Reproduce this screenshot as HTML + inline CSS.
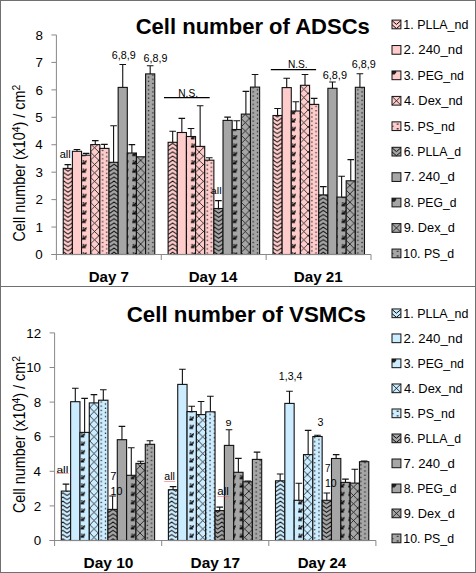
<!DOCTYPE html><html><head><meta charset="utf-8"><style>html,body{margin:0;padding:0;background:#fff;overflow:hidden}svg{display:block}text{font-family:"Liberation Sans",sans-serif}</style></head><body><svg width="476" height="573" viewBox="0 0 476 573" font-family="Liberation Sans, sans-serif"><defs><pattern id="zztn" patternUnits="userSpaceOnUse" x="5.23" y="1.11" width="8.37" height="4.185"><rect width="8.37" height="4.185" fill="#FFCCCC"/><polyline points="-4.185,-1.2849999999999997 0,-4.185 4.185,-1.2849999999999997 8.37,-4.185 12.555,-1.2849999999999997" fill="none" stroke="#000" stroke-width="0.9"/><polyline points="-4.185,2.9 0,0.0 4.185,2.9 8.37,0.0 12.555,2.9" fill="none" stroke="#000" stroke-width="0.9"/><polyline points="-4.185,7.084999999999999 0,4.185 4.185,7.084999999999999 8.37,4.185 12.555,7.084999999999999" fill="none" stroke="#000" stroke-width="0.9"/><polyline points="-4.185,11.27 0,8.37 4.185,11.27 8.37,8.37 12.555,11.27" fill="none" stroke="#000" stroke-width="0.9"/></pattern><pattern id="pegtn" patternUnits="userSpaceOnUse" x="6.67" y="1.11" width="8.37" height="8.37"><rect width="8.37" height="8.37" fill="#FFCCCC"/><path d="M0.6,0.1h1.5v1.5h-1.5z" fill="#333"/><path d="M1.7,2.0L4.4,-0.3L4.3,2.6z" fill="#000"/><path d="M-0.3,4.2L0.6,2.1L3.0,2.1L4.0,4.2z" fill="#000"/></pattern><pattern id="dextn" patternUnits="userSpaceOnUse" x="6.71" y="1.33" width="8.37" height="8.37"><rect width="8.37" height="8.37" fill="#FFCCCC"/><path d="M-1,-1L9.37,9.37M9.37,-1L-1,9.37" stroke="#111" stroke-width="0.8"/></pattern><pattern id="dottn" patternUnits="userSpaceOnUse" x="2.16" y="4.01" width="8.37" height="8.37"><rect width="8.37" height="8.37" fill="#FFCCCC"/><rect x="-0.62" y="-0.62" width="1.25" height="1.25" fill="#1a1a1a"/><rect x="-0.62" y="3.56" width="1.25" height="1.25" fill="#1a1a1a"/><rect x="3.56" y="1.47" width="1.25" height="1.25" fill="#1a1a1a"/><rect x="3.56" y="5.65" width="1.25" height="1.25" fill="#1a1a1a"/><rect x="7.74" y="-0.62" width="1.25" height="1.25" fill="#1a1a1a"/><rect x="7.74" y="3.56" width="1.25" height="1.25" fill="#1a1a1a"/><rect x="-0.62" y="7.74" width="1.25" height="1.25" fill="#1a1a1a"/><rect x="7.74" y="7.74" width="1.25" height="1.25" fill="#1a1a1a"/></pattern><pattern id="zztd" patternUnits="userSpaceOnUse" x="5.23" y="1.11" width="8.37" height="4.185"><rect width="8.37" height="4.185" fill="#A6A6A6"/><polyline points="-4.185,-1.2849999999999997 0,-4.185 4.185,-1.2849999999999997 8.37,-4.185 12.555,-1.2849999999999997" fill="none" stroke="#000" stroke-width="0.9"/><polyline points="-4.185,2.9 0,0.0 4.185,2.9 8.37,0.0 12.555,2.9" fill="none" stroke="#000" stroke-width="0.9"/><polyline points="-4.185,7.084999999999999 0,4.185 4.185,7.084999999999999 8.37,4.185 12.555,7.084999999999999" fill="none" stroke="#000" stroke-width="0.9"/><polyline points="-4.185,11.27 0,8.37 4.185,11.27 8.37,8.37 12.555,11.27" fill="none" stroke="#000" stroke-width="0.9"/></pattern><pattern id="pegtd" patternUnits="userSpaceOnUse" x="6.67" y="1.11" width="8.37" height="8.37"><rect width="8.37" height="8.37" fill="#A6A6A6"/><path d="M0.6,0.1h1.5v1.5h-1.5z" fill="#333"/><path d="M1.7,2.0L4.4,-0.3L4.3,2.6z" fill="#000"/><path d="M-0.3,4.2L0.6,2.1L3.0,2.1L4.0,4.2z" fill="#000"/></pattern><pattern id="dextd" patternUnits="userSpaceOnUse" x="6.71" y="1.33" width="8.37" height="8.37"><rect width="8.37" height="8.37" fill="#A6A6A6"/><path d="M-1,-1L9.37,9.37M9.37,-1L-1,9.37" stroke="#111" stroke-width="0.8"/></pattern><pattern id="dottd" patternUnits="userSpaceOnUse" x="2.16" y="4.01" width="8.37" height="8.37"><rect width="8.37" height="8.37" fill="#A6A6A6"/><rect x="-0.62" y="-0.62" width="1.25" height="1.25" fill="#1a1a1a"/><rect x="-0.62" y="3.56" width="1.25" height="1.25" fill="#1a1a1a"/><rect x="3.56" y="1.47" width="1.25" height="1.25" fill="#1a1a1a"/><rect x="3.56" y="5.65" width="1.25" height="1.25" fill="#1a1a1a"/><rect x="7.74" y="-0.62" width="1.25" height="1.25" fill="#1a1a1a"/><rect x="7.74" y="3.56" width="1.25" height="1.25" fill="#1a1a1a"/><rect x="-0.62" y="7.74" width="1.25" height="1.25" fill="#1a1a1a"/><rect x="7.74" y="7.74" width="1.25" height="1.25" fill="#1a1a1a"/></pattern><pattern id="zzbn" patternUnits="userSpaceOnUse" x="4.23" y="3.10" width="8.37" height="4.185"><rect width="8.37" height="4.185" fill="#CCECFF"/><polyline points="-4.185,-1.2849999999999997 0,-4.185 4.185,-1.2849999999999997 8.37,-4.185 12.555,-1.2849999999999997" fill="none" stroke="#000" stroke-width="0.9"/><polyline points="-4.185,2.9 0,0.0 4.185,2.9 8.37,0.0 12.555,2.9" fill="none" stroke="#000" stroke-width="0.9"/><polyline points="-4.185,7.084999999999999 0,4.185 4.185,7.084999999999999 8.37,4.185 12.555,7.084999999999999" fill="none" stroke="#000" stroke-width="0.9"/><polyline points="-4.185,11.27 0,8.37 4.185,11.27 8.37,8.37 12.555,11.27" fill="none" stroke="#000" stroke-width="0.9"/></pattern><pattern id="pegbn" patternUnits="userSpaceOnUse" x="5.17" y="6.20" width="8.37" height="8.37"><rect width="8.37" height="8.37" fill="#CCECFF"/><path d="M0.6,0.1h1.5v1.5h-1.5z" fill="#333"/><path d="M1.7,2.0L4.4,-0.3L4.3,2.6z" fill="#000"/><path d="M-0.3,4.2L0.6,2.1L3.0,2.1L4.0,4.2z" fill="#000"/></pattern><pattern id="dexbn" patternUnits="userSpaceOnUse" x="6.12" y="5.82" width="8.37" height="8.37"><rect width="8.37" height="8.37" fill="#CCECFF"/><path d="M-1,-1L9.37,9.37M9.37,-1L-1,9.37" stroke="#111" stroke-width="0.8"/></pattern><pattern id="dotbn" patternUnits="userSpaceOnUse" x="0.86" y="4.40" width="8.37" height="8.37"><rect width="8.37" height="8.37" fill="#CCECFF"/><rect x="-0.62" y="-0.62" width="1.25" height="1.25" fill="#1a1a1a"/><rect x="-0.62" y="3.56" width="1.25" height="1.25" fill="#1a1a1a"/><rect x="3.56" y="1.47" width="1.25" height="1.25" fill="#1a1a1a"/><rect x="3.56" y="5.65" width="1.25" height="1.25" fill="#1a1a1a"/><rect x="7.74" y="-0.62" width="1.25" height="1.25" fill="#1a1a1a"/><rect x="7.74" y="3.56" width="1.25" height="1.25" fill="#1a1a1a"/><rect x="-0.62" y="7.74" width="1.25" height="1.25" fill="#1a1a1a"/><rect x="7.74" y="7.74" width="1.25" height="1.25" fill="#1a1a1a"/></pattern><pattern id="zzbd" patternUnits="userSpaceOnUse" x="4.23" y="3.10" width="8.37" height="4.185"><rect width="8.37" height="4.185" fill="#A6A6A6"/><polyline points="-4.185,-1.2849999999999997 0,-4.185 4.185,-1.2849999999999997 8.37,-4.185 12.555,-1.2849999999999997" fill="none" stroke="#000" stroke-width="0.9"/><polyline points="-4.185,2.9 0,0.0 4.185,2.9 8.37,0.0 12.555,2.9" fill="none" stroke="#000" stroke-width="0.9"/><polyline points="-4.185,7.084999999999999 0,4.185 4.185,7.084999999999999 8.37,4.185 12.555,7.084999999999999" fill="none" stroke="#000" stroke-width="0.9"/><polyline points="-4.185,11.27 0,8.37 4.185,11.27 8.37,8.37 12.555,11.27" fill="none" stroke="#000" stroke-width="0.9"/></pattern><pattern id="pegbd" patternUnits="userSpaceOnUse" x="5.17" y="6.20" width="8.37" height="8.37"><rect width="8.37" height="8.37" fill="#A6A6A6"/><path d="M0.6,0.1h1.5v1.5h-1.5z" fill="#333"/><path d="M1.7,2.0L4.4,-0.3L4.3,2.6z" fill="#000"/><path d="M-0.3,4.2L0.6,2.1L3.0,2.1L4.0,4.2z" fill="#000"/></pattern><pattern id="dexbd" patternUnits="userSpaceOnUse" x="6.12" y="5.82" width="8.37" height="8.37"><rect width="8.37" height="8.37" fill="#A6A6A6"/><path d="M-1,-1L9.37,9.37M9.37,-1L-1,9.37" stroke="#111" stroke-width="0.8"/></pattern><pattern id="dotbd" patternUnits="userSpaceOnUse" x="0.86" y="4.40" width="8.37" height="8.37"><rect width="8.37" height="8.37" fill="#A6A6A6"/><rect x="-0.62" y="-0.62" width="1.25" height="1.25" fill="#1a1a1a"/><rect x="-0.62" y="3.56" width="1.25" height="1.25" fill="#1a1a1a"/><rect x="3.56" y="1.47" width="1.25" height="1.25" fill="#1a1a1a"/><rect x="3.56" y="5.65" width="1.25" height="1.25" fill="#1a1a1a"/><rect x="7.74" y="-0.62" width="1.25" height="1.25" fill="#1a1a1a"/><rect x="7.74" y="3.56" width="1.25" height="1.25" fill="#1a1a1a"/><rect x="-0.62" y="7.74" width="1.25" height="1.25" fill="#1a1a1a"/><rect x="7.74" y="7.74" width="1.25" height="1.25" fill="#1a1a1a"/></pattern></defs><rect x="0" y="0" width="476" height="573" fill="#fff"/><path d="M51.4,254.50H56.4" stroke="#888888" stroke-width="1"/><text x="35.33" y="259.20" font-size="13.43" textLength="7.45" lengthAdjust="spacingAndGlyphs" fill="#000" >0</text><path d="M51.4,227.06H56.4" stroke="#888888" stroke-width="1"/><text x="35.47" y="231.76" font-size="13.62" textLength="7.45" lengthAdjust="spacingAndGlyphs" fill="#000" >1</text><path d="M51.4,199.62H56.4" stroke="#888888" stroke-width="1"/><text x="35.47" y="204.32" font-size="13.43" textLength="7.45" lengthAdjust="spacingAndGlyphs" fill="#000" >2</text><path d="M51.4,172.18H56.4" stroke="#888888" stroke-width="1"/><text x="35.47" y="176.88" font-size="13.43" textLength="7.45" lengthAdjust="spacingAndGlyphs" fill="#000" >3</text><path d="M51.4,144.74H56.4" stroke="#888888" stroke-width="1"/><text x="35.20" y="149.44" font-size="13.62" textLength="7.45" lengthAdjust="spacingAndGlyphs" fill="#000" >4</text><path d="M51.4,117.30H56.4" stroke="#888888" stroke-width="1"/><text x="35.33" y="122.00" font-size="13.62" textLength="7.45" lengthAdjust="spacingAndGlyphs" fill="#000" >5</text><path d="M51.4,89.86H56.4" stroke="#888888" stroke-width="1"/><text x="35.47" y="94.56" font-size="13.43" textLength="7.45" lengthAdjust="spacingAndGlyphs" fill="#000" >6</text><path d="M51.4,62.42H56.4" stroke="#888888" stroke-width="1"/><text x="35.47" y="67.12" font-size="13.62" textLength="7.45" lengthAdjust="spacingAndGlyphs" fill="#000" >7</text><path d="M51.4,34.98H56.4" stroke="#888888" stroke-width="1"/><text x="35.47" y="39.68" font-size="13.43" textLength="7.45" lengthAdjust="spacingAndGlyphs" fill="#000" >8</text><path d="M161.27,254.5V260.0" stroke="#888888" stroke-width="1"/><path d="M266.13,254.5V260.0" stroke="#888888" stroke-width="1"/><path d="M371.00,254.5V260.0" stroke="#888888" stroke-width="1"/><rect x="63.25" y="168.40" width="9.15" height="86.10" fill="url(#zztn)" stroke="#111" stroke-width="1.1"/><rect x="72.40" y="151.30" width="9.15" height="103.20" fill="#FFCCCC" stroke="#111" stroke-width="1.1"/><rect x="81.55" y="155.20" width="9.15" height="99.30" fill="url(#pegtn)" stroke="#111" stroke-width="1.1"/><rect x="90.70" y="144.60" width="9.15" height="109.90" fill="url(#dextn)" stroke="#111" stroke-width="1.1"/><rect x="99.85" y="148.40" width="9.15" height="106.10" fill="url(#dottn)" stroke="#111" stroke-width="1.1"/><rect x="109.00" y="162.30" width="9.15" height="92.20" fill="url(#zztd)" stroke="#111" stroke-width="1.1"/><rect x="118.15" y="87.40" width="9.15" height="167.10" fill="#A6A6A6" stroke="#111" stroke-width="1.1"/><rect x="127.30" y="153.00" width="9.15" height="101.50" fill="url(#pegtd)" stroke="#111" stroke-width="1.1"/><rect x="136.45" y="156.80" width="9.15" height="97.70" fill="url(#dextd)" stroke="#111" stroke-width="1.1"/><rect x="145.60" y="73.90" width="9.15" height="180.60" fill="url(#dottd)" stroke="#111" stroke-width="1.1"/><rect x="168.12" y="142.30" width="9.15" height="112.20" fill="url(#zztn)" stroke="#111" stroke-width="1.1"/><rect x="177.27" y="132.50" width="9.15" height="122.00" fill="#FFCCCC" stroke="#111" stroke-width="1.1"/><rect x="186.42" y="136.50" width="9.15" height="118.00" fill="url(#pegtn)" stroke="#111" stroke-width="1.1"/><rect x="195.57" y="146.40" width="9.15" height="108.10" fill="url(#dextn)" stroke="#111" stroke-width="1.1"/><rect x="204.72" y="160.20" width="9.15" height="94.30" fill="url(#dottn)" stroke="#111" stroke-width="1.1"/><rect x="213.87" y="208.50" width="9.15" height="46.00" fill="url(#zztd)" stroke="#111" stroke-width="1.1"/><rect x="223.02" y="120.40" width="9.15" height="134.10" fill="#A6A6A6" stroke="#111" stroke-width="1.1"/><rect x="232.17" y="129.50" width="9.15" height="125.00" fill="url(#pegtd)" stroke="#111" stroke-width="1.1"/><rect x="241.32" y="114.10" width="9.15" height="140.40" fill="url(#dextd)" stroke="#111" stroke-width="1.1"/><rect x="250.47" y="87.10" width="9.15" height="167.40" fill="url(#dottd)" stroke="#111" stroke-width="1.1"/><rect x="272.98" y="115.50" width="9.15" height="139.00" fill="url(#zztn)" stroke="#111" stroke-width="1.1"/><rect x="282.13" y="87.60" width="9.15" height="166.90" fill="#FFCCCC" stroke="#111" stroke-width="1.1"/><rect x="291.28" y="111.00" width="9.15" height="143.50" fill="url(#pegtn)" stroke="#111" stroke-width="1.1"/><rect x="300.43" y="85.30" width="9.15" height="169.20" fill="url(#dextn)" stroke="#111" stroke-width="1.1"/><rect x="309.58" y="104.40" width="9.15" height="150.10" fill="url(#dottn)" stroke="#111" stroke-width="1.1"/><rect x="318.73" y="194.90" width="9.15" height="59.60" fill="url(#zztd)" stroke="#111" stroke-width="1.1"/><rect x="327.88" y="88.30" width="9.15" height="166.20" fill="#A6A6A6" stroke="#111" stroke-width="1.1"/><rect x="337.03" y="197.10" width="9.15" height="57.40" fill="url(#pegtd)" stroke="#111" stroke-width="1.1"/><rect x="346.18" y="180.80" width="9.15" height="73.70" fill="url(#dextd)" stroke="#111" stroke-width="1.1"/><rect x="355.33" y="87.30" width="9.15" height="167.20" fill="url(#dottd)" stroke="#111" stroke-width="1.1"/><path d="M56.4,34.97999999999999V260.0M51.4,254.5H371.0" stroke="#888888" stroke-width="1" fill="none"/><path d="M67.83,168.40V164.60M64.53,164.60H71.12" stroke="#111" stroke-width="1.1"/><path d="M76.98,151.30V149.50M73.68,149.50H80.28" stroke="#111" stroke-width="1.1"/><path d="M86.12,155.20V153.40M82.83,153.40H89.42" stroke="#111" stroke-width="1.1"/><path d="M95.28,144.60V140.60M91.98,140.60H98.58" stroke="#111" stroke-width="1.1"/><path d="M104.42,148.40V144.40M101.12,144.40H107.72" stroke="#111" stroke-width="1.1"/><path d="M113.58,162.30V125.70M110.28,125.70H116.88" stroke="#111" stroke-width="1.1"/><path d="M122.73,87.40V64.50M119.43,64.50H126.03" stroke="#111" stroke-width="1.1"/><path d="M131.88,153.00V144.60M128.57,144.60H135.18" stroke="#111" stroke-width="1.1"/><path d="M150.18,73.90V65.70M146.88,65.70H153.48" stroke="#111" stroke-width="1.1"/><path d="M172.69,142.30V131.30M169.39,131.30H175.99" stroke="#111" stroke-width="1.1"/><path d="M181.84,132.50V118.40M178.54,118.40H185.14" stroke="#111" stroke-width="1.1"/><path d="M190.99,136.50V128.50M187.69,128.50H194.29" stroke="#111" stroke-width="1.1"/><path d="M200.14,146.40V105.80M196.84,105.80H203.44" stroke="#111" stroke-width="1.1"/><path d="M209.29,160.20V157.70M205.99,157.70H212.59" stroke="#111" stroke-width="1.1"/><path d="M218.44,208.50V200.60M215.14,200.60H221.74" stroke="#111" stroke-width="1.1"/><path d="M227.59,120.40V117.10M224.29,117.10H230.89" stroke="#111" stroke-width="1.1"/><path d="M236.74,129.50V120.70M233.44,120.70H240.04" stroke="#111" stroke-width="1.1"/><path d="M245.89,114.10V91.40M242.59,91.40H249.19" stroke="#111" stroke-width="1.1"/><path d="M255.04,87.10V74.50M251.74,74.50H258.34" stroke="#111" stroke-width="1.1"/><path d="M277.56,115.50V108.50M274.26,108.50H280.86" stroke="#111" stroke-width="1.1"/><path d="M286.71,87.60V78.20M283.41,78.20H290.01" stroke="#111" stroke-width="1.1"/><path d="M295.86,111.00V101.70M292.56,101.70H299.16" stroke="#111" stroke-width="1.1"/><path d="M305.01,85.30V74.50M301.71,74.50H308.31" stroke="#111" stroke-width="1.1"/><path d="M314.16,104.40V98.40M310.86,98.40H317.46" stroke="#111" stroke-width="1.1"/><path d="M323.31,194.90V186.60M320.01,186.60H326.61" stroke="#111" stroke-width="1.1"/><path d="M332.46,88.30V82.00M329.16,82.00H335.76" stroke="#111" stroke-width="1.1"/><path d="M341.61,197.10V176.20M338.31,176.20H344.91" stroke="#111" stroke-width="1.1"/><path d="M350.76,180.80V159.60M347.46,159.60H354.06" stroke="#111" stroke-width="1.1"/><path d="M359.91,87.30V73.70M356.61,73.70H363.21" stroke="#111" stroke-width="1.1"/><path d="M49.6,540.50H54.6" stroke="#888888" stroke-width="1"/><text x="33.63" y="545.20" font-size="13.43" textLength="7.45" lengthAdjust="spacingAndGlyphs" fill="#000" >0</text><path d="M49.6,505.90H54.6" stroke="#888888" stroke-width="1"/><text x="33.77" y="510.60" font-size="13.43" textLength="7.45" lengthAdjust="spacingAndGlyphs" fill="#000" >2</text><path d="M49.6,471.30H54.6" stroke="#888888" stroke-width="1"/><text x="33.50" y="476.00" font-size="13.62" textLength="7.45" lengthAdjust="spacingAndGlyphs" fill="#000" >4</text><path d="M49.6,436.70H54.6" stroke="#888888" stroke-width="1"/><text x="33.77" y="441.40" font-size="13.43" textLength="7.45" lengthAdjust="spacingAndGlyphs" fill="#000" >6</text><path d="M49.6,402.10H54.6" stroke="#888888" stroke-width="1"/><text x="33.77" y="406.80" font-size="13.43" textLength="7.45" lengthAdjust="spacingAndGlyphs" fill="#000" >8</text><path d="M49.6,367.50H54.6" stroke="#888888" stroke-width="1"/><text x="26.13" y="372.20" font-size="13.43" textLength="14.90" lengthAdjust="spacingAndGlyphs" fill="#000" >10</text><path d="M49.6,332.90H54.6" stroke="#888888" stroke-width="1"/><text x="26.26" y="337.60" font-size="13.43" textLength="14.90" lengthAdjust="spacingAndGlyphs" fill="#000" >12</text><path d="M161.70,540.5V546.0" stroke="#888888" stroke-width="1"/><path d="M268.80,540.5V546.0" stroke="#888888" stroke-width="1"/><path d="M375.90,540.5V546.0" stroke="#888888" stroke-width="1"/><rect x="61.30" y="491.10" width="9.33" height="49.40" fill="url(#zzbn)" stroke="#111" stroke-width="1.1"/><rect x="70.63" y="401.70" width="9.33" height="138.80" fill="#CCECFF" stroke="#111" stroke-width="1.1"/><rect x="79.96" y="432.40" width="9.33" height="108.10" fill="url(#pegbn)" stroke="#111" stroke-width="1.1"/><rect x="89.29" y="402.90" width="9.33" height="137.60" fill="url(#dexbn)" stroke="#111" stroke-width="1.1"/><rect x="98.62" y="400.20" width="9.33" height="140.30" fill="url(#dotbn)" stroke="#111" stroke-width="1.1"/><rect x="107.95" y="509.40" width="9.33" height="31.10" fill="url(#zzbd)" stroke="#111" stroke-width="1.1"/><rect x="117.28" y="439.70" width="9.33" height="100.80" fill="#A6A6A6" stroke="#111" stroke-width="1.1"/><rect x="126.61" y="475.30" width="9.33" height="65.20" fill="url(#pegbd)" stroke="#111" stroke-width="1.1"/><rect x="135.94" y="463.40" width="9.33" height="77.10" fill="url(#dexbd)" stroke="#111" stroke-width="1.1"/><rect x="145.27" y="444.30" width="9.33" height="96.20" fill="url(#dotbd)" stroke="#111" stroke-width="1.1"/><rect x="168.40" y="489.70" width="9.33" height="50.80" fill="url(#zzbn)" stroke="#111" stroke-width="1.1"/><rect x="177.73" y="384.40" width="9.33" height="156.10" fill="#CCECFF" stroke="#111" stroke-width="1.1"/><rect x="187.06" y="411.60" width="9.33" height="128.90" fill="url(#pegbn)" stroke="#111" stroke-width="1.1"/><rect x="196.39" y="414.60" width="9.33" height="125.90" fill="url(#dexbn)" stroke="#111" stroke-width="1.1"/><rect x="205.72" y="411.80" width="9.33" height="128.70" fill="url(#dotbn)" stroke="#111" stroke-width="1.1"/><rect x="215.05" y="510.60" width="9.33" height="29.90" fill="url(#zzbd)" stroke="#111" stroke-width="1.1"/><rect x="224.38" y="445.40" width="9.33" height="95.10" fill="#A6A6A6" stroke="#111" stroke-width="1.1"/><rect x="233.71" y="472.30" width="9.33" height="68.20" fill="url(#pegbd)" stroke="#111" stroke-width="1.1"/><rect x="243.04" y="481.80" width="9.33" height="58.70" fill="url(#dexbd)" stroke="#111" stroke-width="1.1"/><rect x="252.37" y="459.40" width="9.33" height="81.10" fill="url(#dotbd)" stroke="#111" stroke-width="1.1"/><rect x="275.50" y="480.80" width="9.33" height="59.70" fill="url(#zzbn)" stroke="#111" stroke-width="1.1"/><rect x="284.83" y="403.40" width="9.33" height="137.10" fill="#CCECFF" stroke="#111" stroke-width="1.1"/><rect x="294.16" y="500.30" width="9.33" height="40.20" fill="url(#pegbn)" stroke="#111" stroke-width="1.1"/><rect x="303.49" y="454.60" width="9.33" height="85.90" fill="url(#dexbn)" stroke="#111" stroke-width="1.1"/><rect x="312.82" y="436.50" width="9.33" height="104.00" fill="url(#dotbn)" stroke="#111" stroke-width="1.1"/><rect x="322.15" y="500.30" width="9.33" height="40.20" fill="url(#zzbd)" stroke="#111" stroke-width="1.1"/><rect x="331.48" y="458.50" width="9.33" height="82.00" fill="#A6A6A6" stroke="#111" stroke-width="1.1"/><rect x="340.81" y="482.40" width="9.33" height="58.10" fill="url(#pegbd)" stroke="#111" stroke-width="1.1"/><rect x="350.14" y="483.10" width="9.33" height="57.40" fill="url(#dexbd)" stroke="#111" stroke-width="1.1"/><rect x="359.47" y="461.70" width="9.33" height="78.80" fill="url(#dotbd)" stroke="#111" stroke-width="1.1"/><path d="M54.6,332.9V546.0M49.6,540.5H375.9" stroke="#888888" stroke-width="1" fill="none"/><path d="M65.97,491.10V484.10M62.67,484.10H69.27" stroke="#111" stroke-width="1.1"/><path d="M75.30,401.70V388.30M72.00,388.30H78.59" stroke="#111" stroke-width="1.1"/><path d="M84.62,432.40V398.40M81.33,398.40H87.92" stroke="#111" stroke-width="1.1"/><path d="M93.95,402.90V394.60M90.66,394.60H97.25" stroke="#111" stroke-width="1.1"/><path d="M103.29,400.20V389.80M99.99,389.80H106.59" stroke="#111" stroke-width="1.1"/><path d="M112.61,509.40V496.00M109.31,496.00H115.91" stroke="#111" stroke-width="1.1"/><path d="M121.95,439.70V426.40M118.65,426.40H125.25" stroke="#111" stroke-width="1.1"/><path d="M131.28,475.30V447.80M127.98,447.80H134.58" stroke="#111" stroke-width="1.1"/><path d="M140.60,463.40V461.20M137.30,461.20H143.91" stroke="#111" stroke-width="1.1"/><path d="M149.93,444.30V440.80M146.63,440.80H153.23" stroke="#111" stroke-width="1.1"/><path d="M173.06,489.70V486.60M169.76,486.60H176.36" stroke="#111" stroke-width="1.1"/><path d="M182.39,384.40V369.20M179.09,369.20H185.69" stroke="#111" stroke-width="1.1"/><path d="M191.72,411.60V406.30M188.42,406.30H195.02" stroke="#111" stroke-width="1.1"/><path d="M201.05,414.60V401.50M197.75,401.50H204.35" stroke="#111" stroke-width="1.1"/><path d="M210.38,411.80V396.20M207.08,396.20H213.68" stroke="#111" stroke-width="1.1"/><path d="M219.71,510.60V507.10M216.41,507.10H223.01" stroke="#111" stroke-width="1.1"/><path d="M229.04,445.40V429.70M225.74,429.70H232.34" stroke="#111" stroke-width="1.1"/><path d="M238.37,472.30V458.40M235.07,458.40H241.67" stroke="#111" stroke-width="1.1"/><path d="M247.70,481.80V481.00M244.40,481.00H251.00" stroke="#111" stroke-width="1.1"/><path d="M257.03,459.40V452.10M253.73,452.10H260.33" stroke="#111" stroke-width="1.1"/><path d="M280.16,480.80V474.00M276.86,474.00H283.46" stroke="#111" stroke-width="1.1"/><path d="M289.49,403.40V391.30M286.19,391.30H292.79" stroke="#111" stroke-width="1.1"/><path d="M298.82,500.30V483.30M295.52,483.30H302.12" stroke="#111" stroke-width="1.1"/><path d="M308.15,454.60V430.40M304.85,430.40H311.45" stroke="#111" stroke-width="1.1"/><path d="M317.48,436.50V435.20M314.18,435.20H320.78" stroke="#111" stroke-width="1.1"/><path d="M326.81,500.30V493.00M323.51,493.00H330.11" stroke="#111" stroke-width="1.1"/><path d="M336.14,458.50V454.60M332.84,454.60H339.44" stroke="#111" stroke-width="1.1"/><path d="M345.47,482.40V479.10M342.17,479.10H348.77" stroke="#111" stroke-width="1.1"/><path d="M354.80,483.10V469.30M351.50,469.30H358.10" stroke="#111" stroke-width="1.1"/><path d="M364.13,461.70V461.00M360.83,461.00H367.43" stroke="#111" stroke-width="1.1"/><text x="135.72" y="34.00" font-size="21.39" font-weight="bold" textLength="234.08" lengthAdjust="spacingAndGlyphs" fill="#000" >Cell number of ADSCs</text><text x="126.71" y="321.60" font-size="21.81" font-weight="bold" textLength="239.23" lengthAdjust="spacingAndGlyphs" fill="#000" >Cell number of VSMCs</text><text x="88.65" y="281.90" font-size="15.22" font-weight="bold" textLength="40.18" lengthAdjust="spacingAndGlyphs" fill="#000" >Day 7</text><text x="188.74" y="281.90" font-size="15.22" font-weight="bold" textLength="48.62" lengthAdjust="spacingAndGlyphs" fill="#000" >Day 14</text><text x="293.74" y="281.90" font-size="15.00" font-weight="bold" textLength="48.93" lengthAdjust="spacingAndGlyphs" fill="#000" >Day 21</text><text x="83.52" y="568.10" font-size="15.00" font-weight="bold" textLength="49.92" lengthAdjust="spacingAndGlyphs" fill="#000" >Day 10</text><text x="190.52" y="568.10" font-size="15.22" font-weight="bold" textLength="49.66" lengthAdjust="spacingAndGlyphs" fill="#000" >Day 17</text><text x="297.75" y="568.10" font-size="15.00" font-weight="bold" textLength="48.42" lengthAdjust="spacingAndGlyphs" fill="#000" >Day 24</text><text x="59.66" y="157.60" font-size="10.97" textLength="11.01" lengthAdjust="spacingAndGlyphs" fill="#000" >all</text><text x="111.86" y="59.10" font-size="10.57" textLength="23.81" lengthAdjust="spacingAndGlyphs" fill="#000" >6,8,9</text><text x="143.51" y="61.80" font-size="10.57" textLength="23.86" lengthAdjust="spacingAndGlyphs" fill="#000" >6,8,9</text><text x="178.29" y="97.30" font-size="10.14" textLength="19.78" lengthAdjust="spacingAndGlyphs" fill="#000" >N.S.</text><path d="M164,97.6H209.7" stroke="#000" stroke-width="1.1"/><text x="210.87" y="193.90" font-size="9.44" textLength="10.78" lengthAdjust="spacingAndGlyphs" fill="#000" >all</text><text x="287.89" y="67.60" font-size="10.43" textLength="19.78" lengthAdjust="spacingAndGlyphs" fill="#000" >N.S.</text><path d="M270.8,69.6H316.1" stroke="#000" stroke-width="1.1"/><text x="322.65" y="79.00" font-size="10.86" textLength="24.33" lengthAdjust="spacingAndGlyphs" fill="#000" >6,8,9</text><text x="351.66" y="68.00" font-size="10.43" textLength="24.01" lengthAdjust="spacingAndGlyphs" fill="#000" >6,8,9</text><text x="56.42" y="472.50" font-size="9.17" textLength="12.01" lengthAdjust="spacingAndGlyphs" fill="#000" >all</text><path d="M56.4,473.6H68.7" stroke="#F05050" stroke-width="0.8" opacity="0.7"/><text x="110.25" y="480.40" font-size="10.43" textLength="6.17" lengthAdjust="spacingAndGlyphs" fill="#000" >7</text><text x="110.44" y="494.60" font-size="10.29" textLength="11.90" lengthAdjust="spacingAndGlyphs" fill="#000" >10</text><text x="164.28" y="480.40" font-size="10.83" textLength="10.56" lengthAdjust="spacingAndGlyphs" fill="#000" >all</text><path d="M164.2,481.6H175.2" stroke="#F05050" stroke-width="0.8" opacity="0.7"/><text x="217.34" y="495.40" font-size="10.00" textLength="11.56" lengthAdjust="spacingAndGlyphs" fill="#000" >all</text><path d="M217.3,496.6H229.2" stroke="#F05050" stroke-width="0.8" opacity="0.7"/><text x="225.46" y="425.80" font-size="9.57" textLength="6.04" lengthAdjust="spacingAndGlyphs" fill="#000" >9</text><text x="278.85" y="379.90" font-size="10.71" textLength="23.50" lengthAdjust="spacingAndGlyphs" fill="#000" >1,3,4</text><text x="317.47" y="426.00" font-size="10.43" textLength="5.92" lengthAdjust="spacingAndGlyphs" fill="#000" >3</text><text x="325.01" y="472.40" font-size="10.00" textLength="5.44" lengthAdjust="spacingAndGlyphs" fill="#000" >7</text><text x="324.96" y="486.80" font-size="10.57" textLength="11.68" lengthAdjust="spacingAndGlyphs" fill="#000" >10</text><rect x="392.0" y="20.10" width="8.90" height="8.70" fill="#FFCCCC"/><path d="M392.0,20.6 L396.45,24.40 L400.9,20.60 M392.0,24.70 L396.45,28.50 L400.9,24.70" fill="none" stroke="#111" stroke-width="1"/><rect x="392.0" y="20.10" width="8.90" height="8.70" fill="none" stroke="#111" stroke-width="1"/><text x="403.30" y="28.80" font-size="13.19" textLength="65.12" lengthAdjust="spacingAndGlyphs" fill="#000" >1. PLLA_nd</text><rect x="392.0" y="45.54" width="8.90" height="8.70" fill="#FFCCCC"/><rect x="392.0" y="45.54" width="8.90" height="8.70" fill="none" stroke="#111" stroke-width="1"/><text x="403.64" y="54.24" font-size="13.19" textLength="58.97" lengthAdjust="spacingAndGlyphs" fill="#000" >2. 240_nd</text><rect x="392.0" y="70.98" width="8.90" height="8.70" fill="#FFCCCC"/><path d="M392.0,70.98 h4.2 v1.6 l-1.6,2 h-2.6 z" fill="#222"/><rect x="392.0" y="70.98" width="8.90" height="8.70" fill="none" stroke="#111" stroke-width="1"/><text x="403.81" y="79.68" font-size="13.19" textLength="60.05" lengthAdjust="spacingAndGlyphs" fill="#000" >3. PEG_nd</text><rect x="392.0" y="96.42" width="8.90" height="8.70" fill="#FFCCCC"/><path d="M392.0,96.42000000000002 L400.9,105.12 M400.9,96.42 L392.0,105.12" stroke="#222" stroke-width="0.9"/><rect x="392.0" y="96.42" width="8.90" height="8.70" fill="none" stroke="#111" stroke-width="1"/><text x="404.04" y="105.12" font-size="13.19" textLength="58.74" lengthAdjust="spacingAndGlyphs" fill="#000" >4. Dex_nd</text><rect x="392.0" y="121.86" width="8.90" height="8.70" fill="#FFCCCC"/><path d="M396.65,123.46h2v1.4h-2zM396.65,128.06h2v1.4h-2zM392.3,125.86h1.2v1.2h-1.2z" fill="#444"/><rect x="392.0" y="121.86" width="8.90" height="8.70" fill="none" stroke="#111" stroke-width="1"/><text x="403.80" y="130.56" font-size="13.19" textLength="50.99" lengthAdjust="spacingAndGlyphs" fill="#000" >5. PS_nd</text><rect x="392.0" y="147.30" width="8.90" height="8.70" fill="#A6A6A6"/><path d="M392.0,147.8 L396.45,151.60 L400.9,147.80 M392.0,151.90 L396.45,155.70 L400.9,151.90" fill="none" stroke="#111" stroke-width="1"/><rect x="392.0" y="147.30" width="8.90" height="8.70" fill="none" stroke="#111" stroke-width="1"/><text x="403.69" y="156.00" font-size="13.19" textLength="57.27" lengthAdjust="spacingAndGlyphs" fill="#000" >6. PLLA_d</text><rect x="392.0" y="172.74" width="8.90" height="8.70" fill="#A6A6A6"/><rect x="392.0" y="172.74" width="8.90" height="8.70" fill="none" stroke="#111" stroke-width="1"/><text x="403.64" y="181.44" font-size="13.19" textLength="51.18" lengthAdjust="spacingAndGlyphs" fill="#000" >7. 240_d</text><rect x="392.0" y="198.18" width="8.90" height="8.70" fill="#A6A6A6"/><path d="M392.0,198.18 h4.2 v1.6 l-1.6,2 h-2.6 z" fill="#222"/><rect x="392.0" y="198.18" width="8.90" height="8.70" fill="none" stroke="#111" stroke-width="1"/><text x="403.81" y="206.88" font-size="13.19" textLength="52.58" lengthAdjust="spacingAndGlyphs" fill="#000" >8. PEG_d</text><rect x="392.0" y="223.62" width="8.90" height="8.70" fill="#A6A6A6"/><path d="M392.0,223.62 L400.9,232.32 M400.9,223.62 L392.0,232.32" stroke="#222" stroke-width="0.9"/><rect x="392.0" y="223.62" width="8.90" height="8.70" fill="none" stroke="#111" stroke-width="1"/><text x="403.66" y="232.32" font-size="13.19" textLength="51.13" lengthAdjust="spacingAndGlyphs" fill="#000" >9. Dex_d</text><rect x="392.0" y="249.06" width="8.90" height="8.70" fill="#A6A6A6"/><path d="M396.65,250.66h2v1.4h-2zM396.65,255.26h2v1.4h-2zM392.3,253.06h1.2v1.2h-1.2z" fill="#444"/><rect x="392.0" y="249.06" width="8.90" height="8.70" fill="none" stroke="#111" stroke-width="1"/><text x="403.31" y="257.76" font-size="13.19" textLength="50.78" lengthAdjust="spacingAndGlyphs" fill="#000" >10. PS_d</text><rect x="392.0" y="308.95" width="8.90" height="8.70" fill="#CCECFF"/><path d="M392.0,309.45 L396.45,313.25 L400.9,309.45 M392.0,313.55 L396.45,317.35 L400.9,313.55" fill="none" stroke="#111" stroke-width="1"/><rect x="392.0" y="308.95" width="8.90" height="8.70" fill="none" stroke="#111" stroke-width="1"/><text x="403.30" y="317.50" font-size="13.06" textLength="65.12" lengthAdjust="spacingAndGlyphs" fill="#000" >1. PLLA_nd</text><rect x="392.0" y="333.96" width="8.90" height="8.70" fill="#CCECFF"/><rect x="392.0" y="333.96" width="8.90" height="8.70" fill="none" stroke="#111" stroke-width="1"/><text x="403.64" y="342.51" font-size="13.06" textLength="58.97" lengthAdjust="spacingAndGlyphs" fill="#000" >2. 240_nd</text><rect x="392.0" y="358.97" width="8.90" height="8.70" fill="#CCECFF"/><path d="M392.0,358.96999999999997 h4.2 v1.6 l-1.6,2 h-2.6 z" fill="#222"/><rect x="392.0" y="358.97" width="8.90" height="8.70" fill="none" stroke="#111" stroke-width="1"/><text x="403.81" y="367.52" font-size="13.06" textLength="60.05" lengthAdjust="spacingAndGlyphs" fill="#000" >3. PEG_nd</text><rect x="392.0" y="383.98" width="8.90" height="8.70" fill="#CCECFF"/><path d="M392.0,383.98 L400.9,392.68 M400.9,383.98 L392.0,392.68" stroke="#222" stroke-width="0.9"/><rect x="392.0" y="383.98" width="8.90" height="8.70" fill="none" stroke="#111" stroke-width="1"/><text x="404.04" y="392.53" font-size="13.06" textLength="58.74" lengthAdjust="spacingAndGlyphs" fill="#000" >4. Dex_nd</text><rect x="392.0" y="408.99" width="8.90" height="8.70" fill="#CCECFF"/><path d="M396.65,410.59h2v1.4h-2zM396.65,415.19h2v1.4h-2zM392.3,412.99h1.2v1.2h-1.2z" fill="#444"/><rect x="392.0" y="408.99" width="8.90" height="8.70" fill="none" stroke="#111" stroke-width="1"/><text x="403.80" y="417.54" font-size="13.06" textLength="50.99" lengthAdjust="spacingAndGlyphs" fill="#000" >5. PS_nd</text><rect x="392.0" y="434.00" width="8.90" height="8.70" fill="#A6A6A6"/><path d="M392.0,434.5 L396.45,438.30 L400.9,434.50 M392.0,438.60 L396.45,442.40 L400.9,438.60" fill="none" stroke="#111" stroke-width="1"/><rect x="392.0" y="434.00" width="8.90" height="8.70" fill="none" stroke="#111" stroke-width="1"/><text x="403.69" y="442.55" font-size="13.06" textLength="57.27" lengthAdjust="spacingAndGlyphs" fill="#000" >6. PLLA_d</text><rect x="392.0" y="459.01" width="8.90" height="8.70" fill="#A6A6A6"/><rect x="392.0" y="459.01" width="8.90" height="8.70" fill="none" stroke="#111" stroke-width="1"/><text x="403.64" y="467.56" font-size="13.06" textLength="51.18" lengthAdjust="spacingAndGlyphs" fill="#000" >7. 240_d</text><rect x="392.0" y="484.02" width="8.90" height="8.70" fill="#A6A6A6"/><path d="M392.0,484.02 h4.2 v1.6 l-1.6,2 h-2.6 z" fill="#222"/><rect x="392.0" y="484.02" width="8.90" height="8.70" fill="none" stroke="#111" stroke-width="1"/><text x="403.81" y="492.57" font-size="13.06" textLength="52.58" lengthAdjust="spacingAndGlyphs" fill="#000" >8. PEG_d</text><rect x="392.0" y="509.03" width="8.90" height="8.70" fill="#A6A6A6"/><path d="M392.0,509.03 L400.9,517.73 M400.9,509.03 L392.0,517.73" stroke="#222" stroke-width="0.9"/><rect x="392.0" y="509.03" width="8.90" height="8.70" fill="none" stroke="#111" stroke-width="1"/><text x="403.66" y="517.58" font-size="13.06" textLength="51.13" lengthAdjust="spacingAndGlyphs" fill="#000" >9. Dex_d</text><rect x="392.0" y="534.04" width="8.90" height="8.70" fill="#A6A6A6"/><path d="M396.65,535.64h2v1.4h-2zM396.65,540.24h2v1.4h-2zM392.3,538.04h1.2v1.2h-1.2z" fill="#444"/><rect x="392.0" y="534.04" width="8.90" height="8.70" fill="none" stroke="#111" stroke-width="1"/><text x="403.31" y="542.59" font-size="13.06" textLength="50.78" lengthAdjust="spacingAndGlyphs" fill="#000" >10. PS_d</text><g transform="translate(24.9,241.0) rotate(-90) scale(0.9099,1)"><text x="-0.6" y="0" font-size="15.8">Cell number (x10<tspan font-size="11.38" dy="-4.6">4</tspan><tspan dy="4.6">) / cm</tspan><tspan font-size="11.38" dy="-4.6">2</tspan></text></g><g transform="translate(24.9,512.5) rotate(-90) scale(0.9110,1)"><text x="-0.6" y="0" font-size="15.8">Cell number (x10<tspan font-size="11.38" dy="-4.6">4</tspan><tspan dy="4.6">) / cm</tspan><tspan font-size="11.38" dy="-4.6">2</tspan></text></g><path d="M0.5,0V573M475.5,0V573M0,0.5H476M0,572.5H476M0,286.5H476" stroke="#707070" stroke-width="1" fill="none"/></svg></body></html>
